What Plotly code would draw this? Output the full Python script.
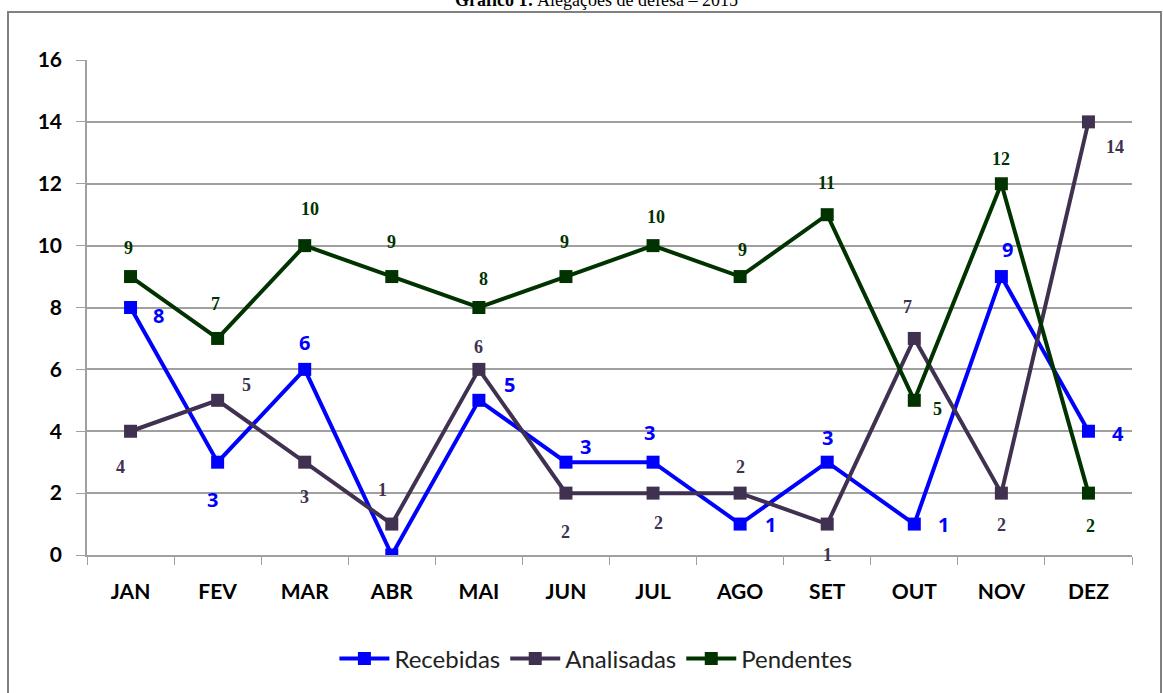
import plotly.graph_objects as go

months = ["JAN", "FEV", "MAR", "ABR", "MAI", "JUN", "JUL", "AGO", "SET", "OUT", "NOV", "DEZ"]
recebidas = [8, 3, 6, 0, 5, 3, 3, 1, 3, 1, 9, 4]
analisadas = [4, 5, 3, 1, 6, 2, 2, 2, 1, 7, 2, 14]
pendentes = [9, 7, 10, 9, 8, 9, 10, 9, 11, 5, 12, 2]
y_ticks = [0, 2, 4, 6, 8, 10, 12, 14, 16]

# label offsets in pixels (dx right, dy down)
rec_off = [(28, 8), (-5, 37), (0, -27), None, (31, -16), (20, -16), (-4, -30), (30, 0), (0, -25), (29, 0), (6, -27), (30, 2)]
ana_off = [(-10, 36), (29, -15), (0, 35), (-9, -34), (0, -22), (0, 39), (5, 30), (0, -26), (0, 31), (-7, -31), (0, 32), (27, 25)]
pen_off = [(-2, -29), (-2, -34), (5, -37), (0, -35), (5, -29), (-1, -35), (3, -29), (2, -27), (-1, -32), (23, 9), (0, -25), (2, 33)]

c_rec = "#0000FF"
c_ana = "#403151"
c_pen = "#003300"

fig = go.Figure()
for name, vals, col in [("Recebidas", recebidas, c_rec), ("Analisadas", analisadas, c_ana), ("Pendentes", pendentes, c_pen)]:
    fig.add_trace(go.Scatter(
        x=months, y=vals, name=name, mode="lines+markers",
        line=dict(color=col, width=4),
        marker=dict(symbol="square", size=13, color=col),
    ))

ann = []
for vals, offs, col, fnt, sz in [
    (recebidas, rec_off, c_rec, "Open Sans", 20),
    (analisadas, ana_off, c_ana, "Liberation Serif", 18),
    (pendentes, pen_off, c_pen, "Liberation Serif", 18),
]:
    for m, v, o in zip(months, vals, offs):
        if o is None:
            continue
        ann.append(dict(x=m, y=v, xref="x", yref="y", text=str(v), showarrow=False,
                        xshift=o[0], yshift=-o[1],
                        font=dict(family=fnt, size=sz, color=col, weight="bold")))

ann.append(dict(xref="paper", yref="paper", x=0.488, y=1 + 60 / 495, yanchor="middle",
                text="<b>Gráfico 1:</b> Alegações de defesa – 2015", showarrow=False,
                font=dict(family="Liberation Serif", size=18, color="black")))

fig.update_layout(
    width=1163, height=693,
    margin=dict(l=87, r=31, t=60, b=138, autoexpand=False),
    paper_bgcolor="white", plot_bgcolor="white",
    showlegend=True,
    legend=dict(orientation="h", x=0.487, xanchor="center", y=-0.21, yanchor="middle",
                font=dict(family="Lato", size=24, color="#222222"), itemwidth=50,
                traceorder="normal"),
    annotations=ann,
    shapes=[dict(type="rect", xref="paper", yref="paper",
                 x0=(8 - 87) / 1045, x1=(1161 - 87) / 1045,
                 y0=(555 - 720) / 495, y1=1 + (60 - 12) / 495,
                 line=dict(color="#808080", width=2), fillcolor="rgba(0,0,0,0)", layer="below")],
    xaxis=dict(type="category", range=[-0.5, 11.5], showgrid=False,
               showline=True, linecolor="#A0A0A0", linewidth=1.5,
               ticks="outside", tickson="boundaries", ticklen=8, tickcolor="#A0A0A0",
               tickfont=dict(family="Lato", size=21, color="#000000", weight="bold"),
               ticklabelstandoff=17),
    yaxis=dict(range=[0, 16], tickvals=y_ticks, showgrid=True, gridcolor="#A0A0A0", gridwidth=1.5,
               showline=True, linecolor="#A0A0A0", linewidth=1.5, zeroline=False,
               ticks="outside", ticklen=9, tickcolor="#A0A0A0",
               tickfont=dict(family="Lato", size=21, color="#000000", weight="bold"),
               ticklabelstandoff=10),
)

fig.write_html("out.html", config={"displayModeBar": False},
               post_script="document.body.style.margin='0';document.body.style.overflow='hidden';")
